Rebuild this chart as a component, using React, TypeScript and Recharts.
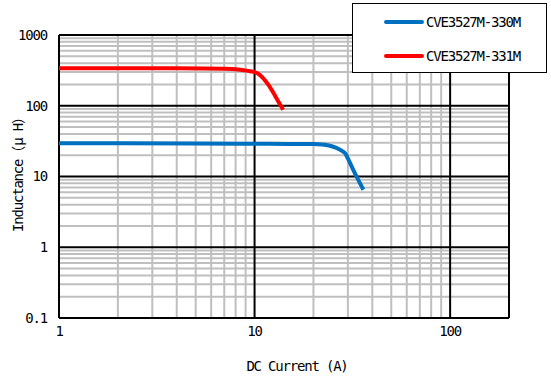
import { LineChart, Line, XAxis, YAxis, ReferenceLine } from "recharts";

// 330M curve
const current330 = [1, 5, 10, 15, 20, 22, 24, 26, 28, 29, 30, 32, 34, 36];
const inductance330 = [29.5, 29.3, 29, 28.9, 28.7, 28.3, 27.4, 25.6, 23, 21.4, 18, 12.3, 8.8, 6.5];

// 331M curve
const current331 = [1, 4, 7, 8.5, 9.5, 10.3, 11, 11.8, 12.7, 13.4, 14];
const inductance331 = [340, 338, 333, 322, 308, 290, 250, 195, 140, 108, 88];

const xTicks = [1, 10, 100];
const yTicks = [0.1, 1, 10, 100, 1000];
const xMinor = [2, 3, 4, 5, 6, 7, 8, 9, 20, 30, 40, 50, 60, 70, 80, 90];
const yMinor = [
    0.2, 0.3, 0.4, 0.5, 0.6, 0.7, 0.8, 0.9,
    2, 3, 4, 5, 6, 7, 8, 9,
    20, 30, 40, 50, 60, 70, 80, 90,
    200, 300, 400, 500, 600, 700, 800, 900,
];
const xMajor = [1, 10, 100, 200];

const series = [
    { name: "CVE3527M-330M", color: "#0070c0", data: current330.map((x, i) => ({ x, y: inductance330[i] })) },
    { name: "CVE3527M-331M", color: "#ff0000", data: current331.map((x, i) => ({ x, y: inductance331[i] })) },
];

const font = "'DejaVu Sans Mono', 'Noto Sans CJK JP', monospace";
const tickStyle = { fontSize: 14, fill: "#000", fontFamily: font, letterSpacing: -1.2 };

export default function App() {
    return (
        <div style={{ position: "absolute", left: 0, top: 0, width: 551, height: 378, background: "#fff" }}>
            <LineChart
                width={551}
                height={378}
                margin={{ top: 35, right: 42, left: 9, bottom: 30 }}
            >
                <XAxis
                    type="number"
                    dataKey="x"
                    scale="log"
                    domain={[1, 200]}
                    ticks={xTicks}
                    allowDataOverflow
                    axisLine={false}
                    tickLine={false}
                    tickSize={6}
                    tickMargin={2}
                    height={30}
                    tick={tickStyle}
                />
                <YAxis
                    type="number"
                    dataKey="y"
                    scale="log"
                    domain={[0.1, 1000]}
                    ticks={yTicks}
                    allowDataOverflow
                    axisLine={false}
                    tickLine={false}
                    tickSize={6}
                    tickMargin={6}
                    width={50}
                    tick={tickStyle}
                />
                {xMinor.map((v) => (
                    <ReferenceLine key={"vx" + v} x={v} stroke="#bfbfbf" strokeWidth={2} />
                ))}
                {yMinor.map((v) => (
                    <ReferenceLine key={"hy" + v} y={v} stroke="#bfbfbf" strokeWidth={2} />
                ))}
                {xMajor.map((v) => (
                    <ReferenceLine key={"VX" + v} x={v} stroke="#000" strokeWidth={2} />
                ))}
                {yTicks.map((v) => (
                    <ReferenceLine key={"HY" + v} y={v} stroke="#000" strokeWidth={2} />
                ))}
                {series.map((s) => (
                    <Line
                        key={s.name}
                        data={s.data}
                        dataKey="y"
                        name={s.name}
                        type="monotone"
                        stroke={s.color}
                        strokeWidth={4}
                        dot={false}
                        isAnimationActive={false}
                    />
                ))}
            </LineChart>
            <div
                style={{
                    position: "absolute",
                    left: 0,
                    top: 171,
                    width: 34,
                    height: 0,
                    display: "flex",
                    justifyContent: "center",
                    alignItems: "center",
                }}
            >
                <div style={{ transform: "rotate(-90deg)", whiteSpace: "nowrap", fontFamily: font, fontSize: 14, letterSpacing: -1.2 }}>
                    Inductance<span style={{ fontFamily: "'Noto Sans CJK JP'", letterSpacing: 0 }}>（</span>μ H<span style={{ fontFamily: "'Noto Sans CJK JP'", letterSpacing: 0 }}>）</span>
                </div>
            </div>
            <div
                style={{
                    position: "absolute",
                    left: 197,
                    top: 357,
                    width: 200,
                    textAlign: "center",
                    fontFamily: font,
                    fontSize: 14,
                    letterSpacing: -1.2,
                    lineHeight: "18px",
                }}
            >
                DC Current (A)
            </div>
            <div
                style={{
                    position: "absolute",
                    left: 352,
                    top: 3,
                    width: 193,
                    height: 68,
                    border: "1px solid #000",
                    background: "#fff",
                }}
            >
                {series.map((s, i) => (
                    <div
                        key={s.name}
                        style={{ position: "absolute", left: 31, top: 9 + i * 34, display: "flex", alignItems: "center" }}
                    >
                        <svg width={40} height={18}>
                            <line x1={2} y1={9} x2={38} y2={9} stroke={s.color} strokeWidth={4} strokeLinecap="round" />
                        </svg>
                        <span style={{ marginLeft: 2, fontFamily: font, fontSize: 14, letterSpacing: -1.2, lineHeight: "18px" }}>
                            {s.name}
                        </span>
                    </div>
                ))}
            </div>
        </div>
    );
}
